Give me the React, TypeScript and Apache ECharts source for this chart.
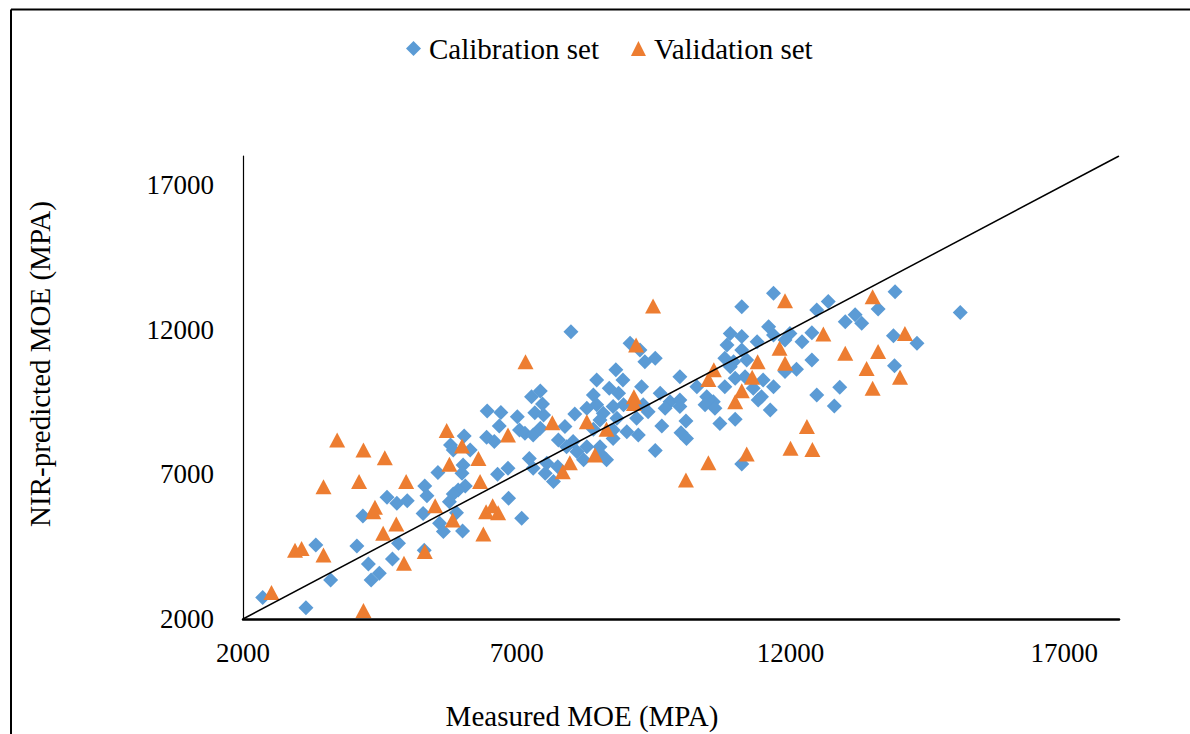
import React, { useEffect, useRef } from "react";
import * as echarts from "echarts";

const calX = [4630, 4810, 4190, 3330, 4080, 4840, 4730, 4290, 4490, 4340, 3600, 2360, 3150, 7430, 7270, 7470, 6460, 6710, 7010, 7330, 7490, 6680, 7050, 7150, 7300, 7430, 6450, 6590, 6040, 5790, 5840, 6150, 7760, 6020, 6000, 5560, 6650, 6840, 7230, 7300, 7550, 7520, 7670, 7750, 5320, 5360, 5000, 6060, 5930, 5840, 5770, 5900, 6850, 5290, 5590, 5660, 6010, 7090, 5310, 7990, 9070, 9250, 9530, 9340, 8810, 8460, 8940, 9980, 10290, 8690, 9280, 8400, 8860, 9620, 9800, 9980, 10470, 10590, 10440, 8460, 8280, 8760, 8950, 9310, 8580, 9400, 9710, 8060, 9980, 10620, 8520, 8830, 9190, 10090, 9650, 7880, 8400, 8760, 9010, 9220, 10000, 10100, 8030, 8760, 7910, 8100, 8280, 8520, 9530, 8520, 8640, 8220, 11690, 11110, 12690, 12480, 13000, 13180, 13300, 11600, 10900, 11110, 11690, 11990, 12390, 11900, 12210, 11390, 10840, 11110, 10800, 10960, 11200, 10900, 12390, 12110, 11900, 10990, 11170, 11500, 10800, 11320, 11690, 11470, 11410, 11630, 12480, 12900, 12800, 10990, 10710, 11110, 13910, 13600, 15100, 13880, 14310, 13900];
const calY = [6210, 6000, 5560, 4560, 4520, 4620, 4070, 3900, 3580, 3350, 3350, 2740, 2390, 9880, 9680, 9430, 9190, 9140, 8990, 9130, 9050, 8670, 8530, 8420, 8360, 8590, 8280, 8130, 8320, 8010, 7840, 7840, 8190, 7320, 7040, 7060, 7000, 7210, 7550, 7210, 7380, 7040, 6750, 7260, 6600, 6260, 6090, 6600, 6460, 6320, 6050, 5670, 6170, 5650, 5310, 5020, 5040, 5480, 4380, 11930, 11530, 11300, 11010, 10890, 10610, 10260, 10260, 10370, 10030, 9970, 10030, 9740, 9800, 9800, 9510, 9570, 9680, 9510, 9400, 9400, 9280, 9340, 9400, 9400, 9110, 9160, 9280, 9080, 9340, 9280, 8880, 8940, 8940, 8840, 8670, 8650, 8560, 8530, 8470, 8360, 8440, 8240, 8130, 8240, 7950, 7780, 7950, 7950, 7820, 7730, 7500, 7500, 13260, 12790, 12970, 12680, 12270, 12510, 12220, 12100, 11870, 11760, 11810, 11870, 11890, 11640, 11580, 11580, 11470, 11300, 11010, 10890, 10950, 10720, 10950, 10630, 10550, 10320, 10370, 10260, 10030, 9970, 10030, 9680, 9570, 9220, 9740, 10010, 9360, 8900, 8760, 7360, 13310, 12710, 12590, 11790, 11530, 10750];

const valX = [3720, 4200, 4590, 3470, 4120, 4410, 4380, 4800, 4560, 2950, 3070, 3470, 2520, 4200, 7160, 7650, 5720, 6840, 6000, 6300, 5770, 4980, 6330, 5510, 6440, 6560, 6660, 5830, 6390, 5320, 4940, 9490, 9180, 10600, 10500, 9140, 9140, 8280, 8640, 8430, 7970, 7840, 10500, 10090, 11900, 13500, 12600, 11800, 11400, 11900, 13000, 13390, 11300, 11110, 10990, 13500, 12300, 12000, 12400, 11200, 14090, 13600, 14000];
const valY = [8190, 7840, 7570, 6570, 6750, 5860, 5710, 5280, 4960, 4380, 4440, 4210, 2920, 2290, 10890, 8780, 8510, 8360, 7980, 7550, 7350, 6750, 6750, 5910, 5710, 5910, 5670, 5420, 4940, 4330, 3930, 12820, 11470, 10610, 10280, 9680, 9450, 8820, 8560, 7670, 7400, 7090, 7400, 6800, 13000, 13140, 11850, 11360, 10890, 10840, 11180, 10660, 10350, 9890, 9510, 9970, 8650, 7900, 7860, 7700, 11870, 11240, 10350];

const refLine = [2000, 18000];

const seriesNames = ["Calibration set", "Validation set"];
const xTitle = "Measured MOE (MPA)";
const yTitle = "NIR-predicted MOE (MPA)";

const FONT = '"Liberation Serif", "Times New Roman", serif';

export default function App() {
  const ref = useRef<HTMLDivElement>(null);
  useEffect(() => {
    document.body.style.margin = "0";
    const chart = echarts.init(ref.current!, null, { renderer: "svg" });
    const cal = calX.map((x, i) => [x, calY[i]]);
    const val = valX.map((x, i) => [x, valY[i]]);
    chart.setOption({
      animation: false,
      backgroundColor: "#fff",
      textStyle: { fontFamily: FONT },
      grid: { left: 243, right: 71, top: 156, bottom: 115, containLabel: false },
      legend: {
        data: seriesNames,
        left: 401,
        top: 29,
        itemWidth: 15,
        itemHeight: 15,
        itemGap: 32,
        textStyle: { fontFamily: FONT, fontSize: 29, color: "#000", padding: [0, 0, 0, 3] },
      },
      xAxis: {
        type: "value",
        min: 2000,
        max: 18000,
        interval: 5000,
        splitLine: { show: false },
        axisTick: { show: false },
        axisLine: { show: true, onZero: false, lineStyle: { color: "#000", width: 2.5 } },
        axisLabel: {
          margin: 20,
          fontFamily: FONT,
          fontSize: 27,
          color: "#000",
          showMaxLabel: false,
          formatter: (v: number) => (v === 18000 ? "" : String(v)),
        },
      },
      yAxis: {
        type: "value",
        min: 2000,
        max: 18000,
        interval: 5000,
        splitLine: { show: false },
        axisTick: { show: false },
        axisLine: { show: true, onZero: false, lineStyle: { color: "#000", width: 1.2 } },
        axisLabel: {
          margin: 29,
          fontFamily: FONT,
          fontSize: 27,
          color: "#000",
          showMaxLabel: false,
          formatter: (v: number) => (v === 18000 ? "" : String(v)),
        },
      },
      graphic: [
        {
          type: "line",
          shape: { x1: 11, y1: 9.5, x2: 1190, y2: 9.5 },
          style: { stroke: "#000", lineWidth: 2 },
        },
        {
          type: "line",
          shape: { x1: 11, y1: 9.5, x2: 11, y2: 734 },
          style: { stroke: "#000", lineWidth: 2 },
        },
        {
          type: "text",
          x: 582,
          y: 716,
          style: {
            text: xTitle,
            fontFamily: FONT,
            fontSize: 29,
            fill: "#000",
            align: "center",
            verticalAlign: "middle",
          },
        },
        {
          type: "text",
          x: 40,
          y: 364,
          rotation: Math.PI / 2,
          style: {
            text: yTitle,
            fontFamily: FONT,
            fontSize: 29,
            fill: "#000",
            align: "center",
            verticalAlign: "middle",
          },
        },
      ],
      series: [
        {
          name: seriesNames[0],
          type: "scatter",
          symbol: "diamond",
          symbolSize: [15, 15],
          itemStyle: { color: "#5B9BD5", opacity: 1 },
          data: cal,
          z: 2,
        },
        {
          name: seriesNames[1],
          type: "scatter",
          symbol: "triangle",
          symbolSize: [16, 15],
          itemStyle: { color: "#ED7D31", opacity: 1 },
          data: val,
          z: 3,
        },
        {
          name: "1:1",
          type: "line",
          data: [
            [refLine[0], refLine[0]],
            [refLine[1], refLine[1]],
          ],
          symbol: "none",
          lineStyle: { color: "#000", width: 1.5 },
          z: 4,
          silent: true,
        },
      ],
    });
    return () => chart.dispose();
  }, []);
  return <div ref={ref} style={{ width: 1190, height: 734 }} />;
}
